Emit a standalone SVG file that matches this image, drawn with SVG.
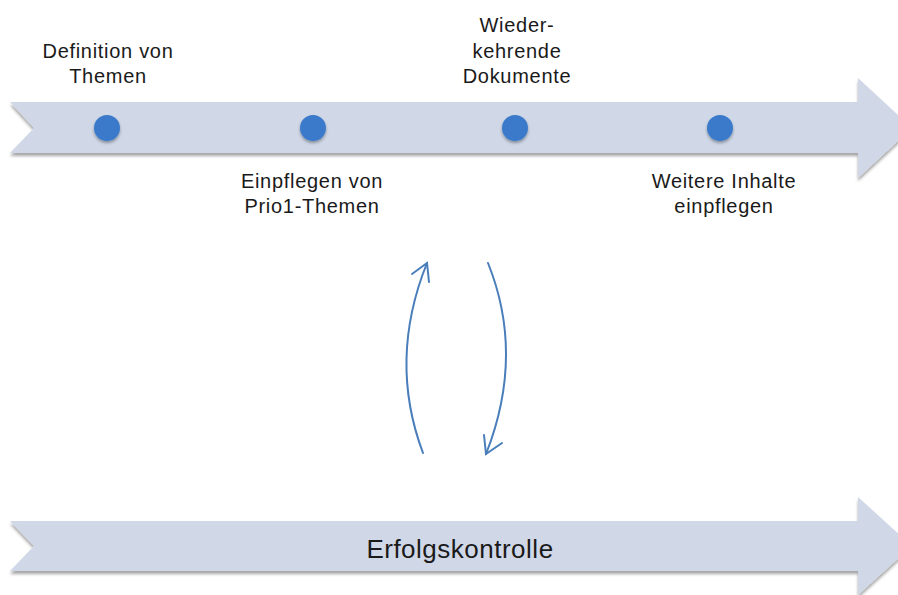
<svg xmlns="http://www.w3.org/2000/svg" width="898" height="595" viewBox="0 0 898 595">
  <style>
    .band { fill: #d0d8e8; filter: url(#shadow); }
    .dot { fill: #3a7acb; filter: url(#dotShadow); }
    .lbl { font-family: "Liberation Sans", Arial, sans-serif; font-size: 20px; fill: #1a1a1a; text-anchor: middle; letter-spacing: 0.7px; }
    .big { font-size: 26px; letter-spacing: 0.5px; }
    .cycle { fill: none; stroke: #4a7ebb; stroke-width: 2; stroke-linecap: round; }
  </style>
  <defs>
    <filter id="shadow" x="-5%" y="-20%" width="110%" height="150%">
      <feDropShadow dx="0" dy="3" stdDeviation="1.8" flood-color="#000" flood-opacity="0.35"/>
    </filter>
    <filter id="dotShadow" x="-50%" y="-50%" width="200%" height="200%">
      <feDropShadow dx="0" dy="2" stdDeviation="1.5" flood-color="#000" flood-opacity="0.35"/>
    </filter>
  </defs>

  <!-- timeline band -->
  <g id="timeline">
    <polygon class="band" points="10,102 858,102 858,78 912,128 858,178 858,153 10,153 34,128"/>
  </g>

  <!-- milestones -->
  <g id="m1">
    <circle class="dot" cx="107" cy="128" r="13"/>
    <text class="lbl" x="108" y="58">Definition von</text>
    <text class="lbl" x="108" y="83">Themen</text>
  </g>
  <g id="m2">
    <circle class="dot" cx="313" cy="128" r="13"/>
    <text class="lbl" x="312" y="188">Einpflegen von</text>
    <text class="lbl" x="312" y="213">Prio1-Themen</text>
  </g>
  <g id="m3">
    <circle class="dot" cx="515" cy="128" r="13"/>
    <text class="lbl" x="517" y="32">Wieder-</text>
    <text class="lbl" x="517" y="58">kehrende</text>
    <text class="lbl" x="517" y="83">Dokumente</text>
  </g>
  <g id="m4">
    <circle class="dot" cx="720" cy="128" r="13"/>
    <text class="lbl" x="724" y="188">Weitere Inhalte</text>
    <text class="lbl" x="724" y="213">einpflegen</text>
  </g>

  <!-- success-control band -->
  <g id="erfolgskontrolle">
    <polygon class="band" points="10,521 858,521 858,497 912,546 858,595 858,571 10,571 34,546"/>
    <text class="lbl big" x="460" y="558">Erfolgskontrolle</text>
  </g>

  <!-- feedback cycle -->
  <g id="connectors">
    <path class="cycle" d="M423,453 Q388,360 427,263"/>
    <path class="cycle" d="M412,274 L427,263 L429,282"/>
    <path class="cycle" d="M488,263 Q525,355 486,454"/>
    <path class="cycle" d="M484,435 L486,454 L502,443"/>
  </g>
</svg>
